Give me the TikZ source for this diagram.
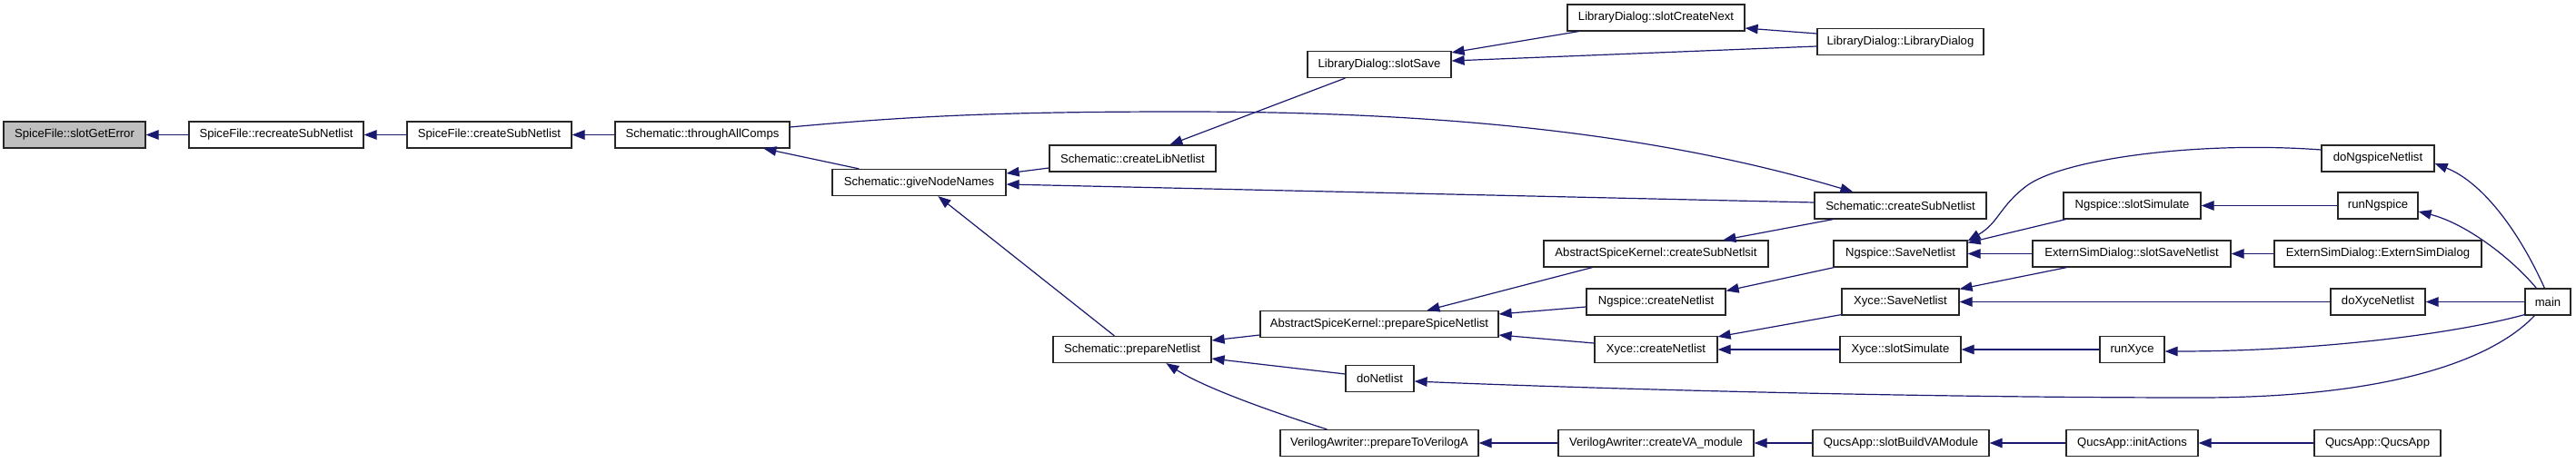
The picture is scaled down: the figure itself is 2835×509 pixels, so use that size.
\documentclass[tikz,border=0pt]{standalone}
\usepackage{fontspec}
\setmainfont{Liberation Sans}
\usetikzlibrary{arrows.meta}
\definecolor{edgecol}{RGB}{25,25,112}
\definecolor{selfill}{RGB}{191,191,191}
\tikzset{
  fn/.style={draw=black!85, line width=1.2pt, fill=white, inner sep=0pt, minimum height=29pt,
    font=\fontsize{13.1}{15}\selectfont, text=black},
  sel/.style={fn, fill=selfill},
  edge/.style={draw=edgecol, line width=1.2pt, -{Triangle[length=14pt,width=10.5pt]}, color=edgecol},
}
\begin{document}
\begin{tikzpicture}[x=1pt,y=-1pt]
\useasboundingbox[fill=white] (0,0) rectangle (2835,509);
% nodes
\node[sel, minimum width=156pt] (gerr) at (82,148.5) {SpiceFile::slotGetError};
\node[fn, minimum width=192pt] (recr) at (304,148.5) {SpiceFile::recreateSubNetlist};
\node[fn, minimum width=181pt] (sfcs) at (538.5,148.5) {SpiceFile::createSubNetlist};
\node[fn, minimum width=192pt] (tac) at (773,148.5) {Schematic::throughAllComps};
\node[fn, minimum width=191pt] (gnn) at (1011.5,201) {Schematic::giveNodeNames};
\node[fn, minimum width=183pt] (cln) at (1246.5,174.5) {Schematic::createLibNetlist};
\node[fn, minimum width=174pt] (pn) at (1246,385) {Schematic::prepareNetlist};
\node[fn, minimum width=158pt] (ss) at (1518,71) {LibraryDialog::slotSave};
\node[fn, minimum width=195pt] (scn) at (1822.5,19.5) {LibraryDialog::slotCreateNext};
\node[fn, minimum width=183pt] (ldl) at (2091.5,46) {LibraryDialog::LibraryDialog};
\node[fn, minimum width=189pt] (scsn) at (2091.5,226.5) {Schematic::createSubNetlist};
\node[fn, minimum width=247pt] (akcs) at (1822.5,279.5) {AbstractSpiceKernel::createSubNetlsit};
\node[fn, minimum width=262pt] (akps) at (1518,357) {AbstractSpiceKernel::prepareSpiceNetlist};
\node[fn, minimum width=75pt] (dn) at (1518.5,417) {doNetlist};
\node[fn, minimum width=218pt] (pva) at (1518,488) {VerilogAwriter::prepareToVerilogA};
\node[fn, minimum width=153pt] (ngcn) at (1822.5,332.5) {Ngspice::createNetlist};
\node[fn, minimum width=135pt] (xcn) at (1822.5,385) {Xyce::createNetlist};
\node[fn, minimum width=215pt] (cva) at (1822.5,488) {VerilogAwriter::createVA\_module};
\node[fn, minimum width=147pt] (ngsn) at (2091.5,279.5) {Ngspice::SaveNetlist};
\node[fn, minimum width=129pt] (xsn) at (2091.5,332.5) {Xyce::SaveNetlist};
\node[fn, minimum width=133pt] (xss) at (2091.5,385) {Xyce::slotSimulate};
\node[fn, minimum width=194pt] (bva) at (2092,488) {QucsApp::slotBuildVAModule};
\node[fn, minimum width=151pt] (ngss) at (2346.5,226.5) {Ngspice::slotSimulate};
\node[fn, minimum width=218pt] (essn) at (2346,279.5) {ExternSimDialog::slotSaveNetlist};
\node[fn, minimum width=71pt] (rx) at (2346.5,385) {runXyce};
\node[fn, minimum width=145pt] (ia) at (2346.5,488) {QucsApp::initActions};
\node[fn, minimum width=124pt] (dngn) at (2617,174.5) {doNgspiceNetlist};
\node[fn, minimum width=88pt] (rng) at (2617,226.5) {runNgspice};
\node[fn, minimum width=228pt] (esd) at (2617,279.5) {ExternSimDialog::ExternSimDialog};
\node[fn, minimum width=104pt] (dxn) at (2617,332.5) {doXyceNetlist};
\node[fn, minimum width=139pt] (qa) at (2616.5,488) {QucsApp::QucsApp};
\node[fn, minimum width=50pt] (main) at (2804,332.5) {main};
% edges
\draw[edge] (recr.west) -- (gerr.east);
\draw[edge] (sfcs.west) -- (recr.east);
\draw[edge] (tac.west) -- (sfcs.east);
\draw[edge] ([xshift=30pt]gnn.north west) -- ([xshift=164pt]tac.south west);
\draw[edge] ([yshift=-10.5pt]cln.west) -- ([yshift=10pt]gnn.east);
\draw[edge] ([yshift=3.5pt]scsn.west) -- ([yshift=-2pt]gnn.east);
\draw[edge] ([yshift=8.5pt]tac.east) .. controls (1000,128) and (1100,123) .. (1300,123)
  .. controls (1550,123) and (1800,140) .. ([xshift=43pt]scsn.north west);
\draw[edge] ([xshift=42pt]ss.south west) -- ([xshift=133pt]cln.north west);
\draw[edge] ([xshift=13pt]scn.south west) -- ([yshift=-2pt]ss.north east);
\draw[edge] ([yshift=9pt]ldl.west) -- ([yshift=-11.5pt]scn.east);
\draw[edge] ([yshift=-5pt]ldl.west) -- ([yshift=4pt]ss.east);
\draw[edge] ([xshift=21pt]scsn.south west) -- ([xshift=198pt]akcs.north west);
\draw[edge] ([xshift=68pt]pn.north west) -- ([xshift=117pt]gnn.south west);
\draw[edge] ([yshift=-12pt]akps.west) -- ([yshift=10pt]pn.east);
\draw[edge] ([yshift=5pt]dn.west) -- ([yshift=-10pt]pn.east);
\draw[edge] ([xshift=52pt]pva.north west) .. controls (1420,460) and (1330,430) .. ([xshift=125pt]pn.south west);
\draw[edge] ([xshift=54pt]akcs.south west) -- ([xshift=184pt]akps.north west);
\draw[edge] ([yshift=-5.5pt]ngcn.west) -- ([yshift=11pt]akps.east);
\draw[edge] ([yshift=7pt]xcn.west) -- ([yshift=-12pt]akps.east);
\draw[edge] ([xshift=11pt]main.south west) .. controls (2740,400) and (2620,438) .. (2420,438)
  .. controls (2100,438) and (1750,428) .. ([yshift=-3pt]dn.east);
\draw[edge] (cva.west) -- (pva.east);
\draw[edge] ([xshift=1pt]ngsn.south west) -- ([yshift=-3pt]ngcn.north east);
\draw[edge] (essn.west) -- (ngsn.east);
\draw[edge] ([xshift=3pt]ngss.south west) -- ([yshift=-3pt]ngsn.north east);
\draw[edge] ([yshift=9.5pt]dngn.west) .. controls (2420,155) and (2270,175) .. (2230,205)
  .. controls (2200,228) and (2200,245) .. ([yshift=-1pt]ngsn.north east);
\draw[edge] ([xshift=38pt]essn.south west) -- ([yshift=-1pt]xsn.north east);
\draw[edge] (dxn.west) -- (xsn.east);
\draw[edge] (main.west) -- (dxn.east);
\draw[edge] ([xshift=22pt]main.north west) .. controls (2770,250) and (2730,200) .. ([yshift=-5.5pt]dngn.east);
\draw[edge] ([xshift=13pt]main.north west) .. controls (2760,280) and (2710,245) .. ([yshift=-6.5pt]rng.east);
\draw[edge] (rng.west) -- (ngss.east);
\draw[edge] (esd.west) -- (essn.east);
\draw[edge] ([yshift=1pt]xsn.south west) -- ([yshift=-1pt]xcn.north east);
\draw[edge] (xss.west) -- (xcn.east);
\draw[edge] (rx.west) -- (xss.east);
\draw[edge] ([yshift=1pt]main.south west) .. controls (2700,368) and (2550,387) .. ([yshift=-2pt]rx.east);
\draw[edge] (bva.west) -- (cva.east);
\draw[edge] (ia.west) -- (bva.east);
\draw[edge] (qa.west) -- (ia.east);
\end{tikzpicture}
\end{document}
